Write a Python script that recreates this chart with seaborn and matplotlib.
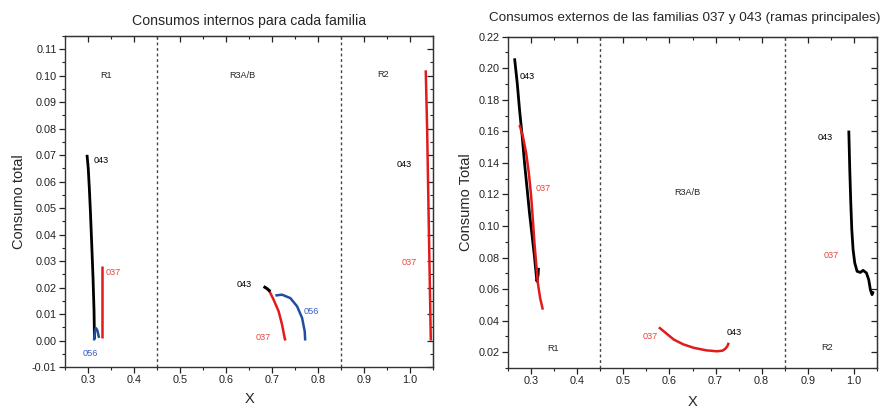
import numpy as np
import pandas as pd
import matplotlib
matplotlib.use("Agg")
import matplotlib.pyplot as plt
from matplotlib.ticker import MultipleLocator, FormatStrFormatter
import seaborn as sns

# ---- internal consumption (left panel) ----
int_043_r1_x = [0.2978, 0.3005, 0.3030, 0.3052, 0.3081, 0.3109, 0.3131, 0.3140]
int_043_r1_y = [0.0701, 0.0650, 0.0570, 0.0487, 0.0362, 0.0236, 0.0110, 0.0005]
int_037_r1_x = [0.331, 0.331]
int_037_r1_y = [0.001, 0.028]
int_056_r1_x = [0.313, 0.315, 0.317, 0.320, 0.322, 0.324]
int_056_r1_y = [0.000, 0.0035, 0.0047, 0.0040, 0.0025, 0.001]

int_043_r3_x = [0.6816, 0.6890, 0.6962]
int_043_r3_y = [0.0204, 0.0196, 0.0185]
int_037_r3_x = [0.6926, 0.7034, 0.7143, 0.7217, 0.7274, 0.7290]
int_037_r3_y = [0.0192, 0.0154, 0.0110, 0.0060, 0.0009, 0.0000]
int_056_r3_x = [0.7071, 0.7217, 0.7398, 0.7544, 0.7653, 0.7710, 0.7720]
int_056_r3_y = [0.0170, 0.0173, 0.0160, 0.0129, 0.0085, 0.0034, 0.0000]

int_037_r2_x = [1.034, 1.037, 1.040, 1.043, 1.045]
int_037_r2_y = [0.102, 0.080, 0.050, 0.020, 0.000]

# ---- external consumption (right panel) ----
ext_043_r1_x = [0.2640, 0.2698, 0.2748, 0.2806, 0.2856, 0.2914, 0.2964, 0.3022,
                0.3071, 0.3110, 0.3125, 0.3150, 0.3160]
ext_043_r1_y = [0.2063, 0.1905, 0.1736, 0.1567, 0.1399, 0.1230, 0.1082, 0.0934,
                0.0808, 0.0690, 0.0650, 0.0690, 0.0735]
ext_037_r1_x = [0.2748, 0.2821, 0.2892, 0.2950, 0.3000, 0.3037, 0.3071, 0.3108,
                0.3145, 0.3194, 0.3253]
ext_037_r1_y = [0.1641, 0.1567, 0.1462, 0.1335, 0.1187, 0.1040, 0.0892, 0.0766,
                0.0639, 0.0544, 0.0470]
ext_037_r3_x = [0.577, 0.595, 0.6095, 0.630, 0.6527, 0.680, 0.703, 0.715, 0.721,
                0.7255, 0.7285]
ext_037_r3_y = [0.0358, 0.0315, 0.0280, 0.0250, 0.0228, 0.0212, 0.0206, 0.0210,
                0.0222, 0.0238, 0.0260]
ext_043_r2_x = [0.9890, 0.9911, 0.9933, 0.9955, 0.9983, 1.0019, 1.0070, 1.0142,
                1.0199, 1.0272, 1.0322, 1.0358, 1.0394, 1.0423]
ext_043_r2_y = [0.1605, 0.1356, 0.1146, 0.0977, 0.0850, 0.0766, 0.0713, 0.0706,
                0.0719, 0.0703, 0.0660, 0.0597, 0.0565, 0.0586]

region_bounds = [0.45, 0.85]

RED = "#e31a1c"
BLUE = "#1f4e9e"
BLACK = "#000000"
RED_TXT = "#e8473d"
BLUE_TXT = "#3a5cc8"

sns.set_style("ticks")
plt.rcParams["font.family"] = ["Liberation Sans", "DejaVu Sans"]
plt.rcParams["lines.solid_joinstyle"] = "round"

fig = plt.figure(figsize=(8.93, 4.08), dpi=100)
ax1 = fig.add_axes([0.0728, 0.1005, 0.4122, 0.8115])
ax2 = fig.add_axes([0.569, 0.098, 0.413, 0.812])


def curve(ax, xs, ys, color, lw=1.8):
    df = pd.DataFrame({"x": xs, "y": ys})
    sns.lineplot(data=df, x="x", y="y", ax=ax, color=color, lw=lw,
                 sort=False, estimator=None, solid_capstyle="butt")


def style_axes(ax, ylim, ymaj, ymin, yfmt):
    ax.set_xlim(0.25, 1.05)
    ax.set_ylim(*ylim)
    ax.xaxis.set_major_locator(MultipleLocator(0.1))
    ax.xaxis.set_minor_locator(MultipleLocator(0.05))
    ax.xaxis.set_major_formatter(FormatStrFormatter("%.1f"))
    ax.yaxis.set_major_locator(MultipleLocator(ymaj))
    ax.yaxis.set_minor_locator(MultipleLocator(ymin))
    ax.yaxis.set_major_formatter(FormatStrFormatter(yfmt))
    ax.tick_params(which="major", direction="out", length=4, width=0.9,
                   labelsize=7.8, colors="#222222", pad=2)
    ax.tick_params(which="minor", direction="out", length=2.5, width=0.8,
                   colors="#222222")
    for sp in ax.spines.values():
        sp.set_visible(True)
        sp.set_linewidth(1.0)
        sp.set_color("#333333")
    # mirrored inward ticks on top and right
    top = ax.secondary_xaxis("top")
    top.xaxis.set_major_locator(MultipleLocator(0.1))
    top.xaxis.set_minor_locator(MultipleLocator(0.05))
    top.tick_params(which="major", direction="in", length=4, width=0.9,
                    labeltop=False, colors="#222222")
    top.tick_params(which="minor", direction="in", length=2.5, width=0.8,
                    colors="#222222")
    right = ax.secondary_yaxis("right")
    right.yaxis.set_major_locator(MultipleLocator(ymaj))
    right.yaxis.set_minor_locator(MultipleLocator(ymin))
    right.tick_params(which="major", direction="in", length=4, width=0.9,
                      labelright=False, colors="#222222")
    right.tick_params(which="minor", direction="in", length=2.5, width=0.8,
                      colors="#222222")
    for b in region_bounds:
        ax.axvline(b, color="#444444", lw=1.0, ls=(0, (2, 2)))


# ---- left panel ----
curve(ax1, int_043_r1_x, int_043_r1_y, BLACK, 2.0)
curve(ax1, int_037_r1_x, int_037_r1_y, RED, 1.8)
curve(ax1, int_056_r1_x, int_056_r1_y, BLUE, 1.8)
curve(ax1, int_037_r3_x, int_037_r3_y, RED, 1.8)
curve(ax1, int_056_r3_x, int_056_r3_y, BLUE, 1.8)
curve(ax1, int_043_r3_x, int_043_r3_y, BLACK, 2.2)
curve(ax1, int_037_r2_x, int_037_r2_y, RED, 1.8)
style_axes(ax1, (-0.01, 0.115), 0.01, 0.005, "%.2f")
ax1.set_xlabel("X", fontsize=10.5, labelpad=5)
ax1.set_ylabel("Consumo total", fontsize=10.5, labelpad=4)
ax1.set_title("Consumos internos para cada familia", fontsize=10.2, pad=8)

lbl = dict(fontsize=6.6, ha="center", va="center")
ax1.text(0.340, 0.100, "R1", **lbl)
ax1.text(0.636, 0.100, "R3A/B", **lbl)
ax1.text(0.942, 0.1003, "R2", **lbl)
ax1.text(0.329, 0.068, "043", color=BLACK, **lbl)
ax1.text(0.354, 0.0257, "037", color=RED_TXT, **lbl)
ax1.text(0.305, -0.005, "056", color=BLUE_TXT, **lbl)
ax1.text(0.6395, 0.0213, "043", color=BLACK, **lbl)
ax1.text(0.785, 0.011, "056", color=BLUE_TXT, **lbl)
ax1.text(0.6816, 0.0012, "037", color=RED_TXT, **lbl)
ax1.text(0.988, 0.0666, "043", color=BLACK, **lbl)
ax1.text(0.9987, 0.0296, "037", color=RED_TXT, **lbl)

# ---- right panel ----
curve(ax2, ext_043_r1_x, ext_043_r1_y, BLACK, 2.0)
curve(ax2, ext_037_r1_x, ext_037_r1_y, RED, 1.8)
curve(ax2, ext_037_r3_x, ext_037_r3_y, RED, 1.8)
curve(ax2, ext_043_r2_x, ext_043_r2_y, BLACK, 2.0)
style_axes(ax2, (0.01, 0.22), 0.02, 0.01, "%.2f")
ax2.set_xlabel("X", fontsize=10.5, labelpad=6)
ax2.set_ylabel("Consumo Total", fontsize=10.5, labelpad=4)
ax2.set_title("Consumos externos de las familias 037 y 043 (ramas principales)",
              fontsize=9.7, pad=11, x=0.48)

ax2.text(0.348, 0.0221, "R1", **lbl)
ax2.text(0.6384, 0.1213, "R3A/B", **lbl)
ax2.text(0.9408, 0.0228, "R2", **lbl)
ax2.text(0.2914, 0.1947, "043", color=BLACK, **lbl)
ax2.text(0.3266, 0.1236, "037", color=RED_TXT, **lbl)
ax2.text(0.559, 0.0297, "037", color=RED_TXT, **lbl)
ax2.text(0.7413, 0.0323, "043", color=BLACK, **lbl)
ax2.text(0.9386, 0.156, "043", color=BLACK, **lbl)
ax2.text(0.9516, 0.0814, "037", color=RED_TXT, **lbl)

fig.savefig("out.png", dpi=100)
